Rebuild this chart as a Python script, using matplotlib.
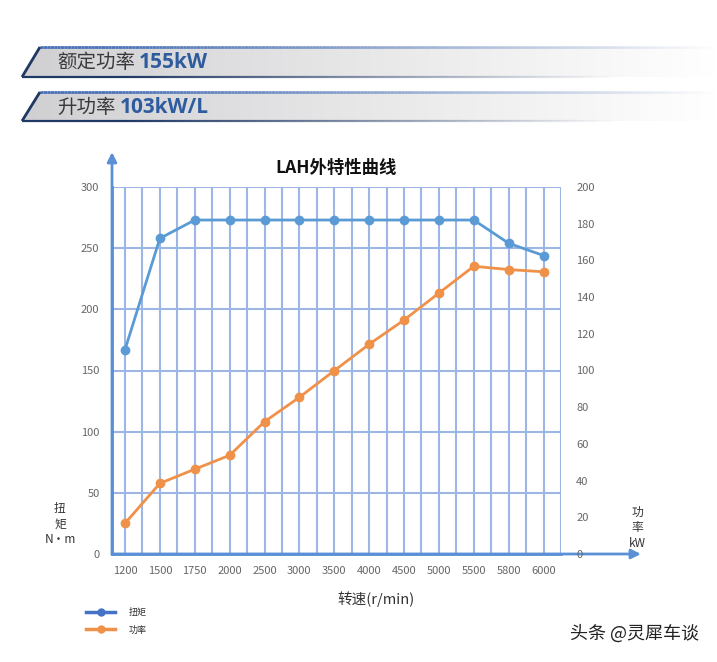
import numpy as np
import matplotlib
matplotlib.use('Agg')
import matplotlib.pyplot as plt
from matplotlib.patches import Polygon
from matplotlib.collections import LineCollection
from matplotlib.colors import LinearSegmentedColormap, to_rgba
from matplotlib.lines import Line2D

plt.rcParams['font.family'] = ['Noto Sans CJK SC', 'DejaVu Sans']

# data
rpm = ['1200', '1500', '1750', '2000', '2500', '3000', '3500',
       '4000', '4500', '5000', '5500', '5800', '6000']
torque = [167, 258, 273, 273, 273, 273, 273, 273, 273, 273, 273, 254, 244]   # N·m
power = [16.7, 38.5, 46.2, 53.8, 72.1, 85.4, 99.9, 114.3, 127.5, 142.2, 156.8, 155.0, 153.8]  # kW
torque_ticks = [0, 50, 100, 150, 200, 250, 300]
power_ticks = [0, 20, 40, 60, 80, 100, 120, 140, 160, 180, 200]

blue = '#5b9bd5'
orange = '#f0914a'
grid_c = '#9db6e6'
axis_c = '#5b8fd6'
tick_c = '#666666'

W, H = 717, 662
fig = plt.figure(figsize=(W / 100, H / 100), dpi=100)

# ---- header banners (pixel coordinates) ----
bg = fig.add_axes([0, 0, 1, 1])
bg.set_xlim(0, W)
bg.set_ylim(H, 0)
bg.axis('off')

cmap = LinearSegmentedColormap.from_list('g', ['#d0d0d3', '#e8e8e9', '#ffffff'])


def banner(y0, y1, label, value, vx):
    poly = Polygon([(22, y1), (40, y0), (W, y0), (W, y1)], closed=True,
                   facecolor='none', edgecolor='none')
    bg.add_patch(poly)
    grad = np.linspace(0, 1, 256).reshape(1, -1)
    im = bg.imshow(grad, cmap=cmap, aspect='auto', extent=(22, W, y1, y0))
    im.set_clip_path(poly)
    xs = np.linspace(40, W, 200)
    segs = [[(xs[i], y0), (xs[i + 1], y0)] for i in range(len(xs) - 1)]
    alphas = np.clip(1.1 - np.linspace(0, 1, len(segs)) * 1.1, 0, 1)
    cols = [to_rgba('#4a72b8', a) for a in alphas]
    bg.add_collection(LineCollection(segs, colors=cols, linewidths=2))
    xs = np.linspace(22, W, 200)
    segs = [[(xs[i], y1), (xs[i + 1], y1)] for i in range(len(xs) - 1)]
    alphas = np.clip(1.2 - np.linspace(0, 1, len(segs)) * 1.4, 0, 1)
    cols = [to_rgba('#1f3864', a) for a in alphas]
    bg.add_collection(LineCollection(segs, colors=cols, linewidths=1.6))
    bg.plot([22, 40], [y1, y0], color='#1f3864', lw=2, solid_capstyle='butt')
    mid = (y0 + y1) / 2
    bg.text(57, mid + 1, label, fontsize=14, color='#3a3a3a', va='center', ha='left')
    bg.text(vx, mid + 1, value, fontsize=15, color='#2e5c9e', va='center',
            ha='left', fontweight='bold', family=['Open Sans', 'DejaVu Sans'])


banner(47, 77, '额定功率', '155kW', 139)
banner(92, 121, '升功率', '103kW/L', 120)

# ---- main chart ----
x = np.arange(len(rpm))
ax = fig.add_axes([112 / W, (H - 554) / H, 449 / W, 367 / H])
ax.set_xlim(-0.372, len(rpm) - 0.5)
ax.set_ylim(0, 300)
ax.set_yticks(torque_ticks)
ax.set_xticks(x)
ax.set_xticklabels(rpm)
ax.set_xticks(np.arange(0.5, len(rpm), 1), minor=True)
ax.grid(which='both', axis='x', color=grid_c, lw=1.5)
ax.grid(which='major', axis='y', color=grid_c, lw=1.5)
ax.set_axisbelow(True)
for s in ['top', 'right']:
    ax.spines[s].set_visible(False)
for s in ['left', 'bottom']:
    ax.spines[s].set_color(axis_c)
    ax.spines[s].set_linewidth(2)
ax.tick_params(axis='both', which='both', length=0, labelsize=8, labelcolor=tick_c)
ax.tick_params(axis='y', pad=9)
ax.tick_params(axis='x', pad=9)

ax.plot(x, torque, color=blue, lw=2, marker='o', ms=6, zorder=3)

ax2 = ax.twinx()
ax2.set_ylim(0, 200)
ax2.set_yticks(power_ticks)
for s in ax2.spines.values():
    s.set_visible(False)
ax2.tick_params(axis='y', length=0, labelsize=8, labelcolor=tick_c, pad=11)
ax2.plot(x, power, color=orange, lw=2, marker='o', ms=6, zorder=3)

# axis arrows
ax.annotate('', xy=(0, 1.095), xytext=(0, 0), xycoords='axes fraction',
            arrowprops=dict(arrowstyle='-|>', color=axis_c, lw=2, mutation_scale=14,
                            shrinkA=0, shrinkB=0), annotation_clip=False)
ax.annotate('', xy=(1.178, 0), xytext=(0, 0), xycoords='axes fraction',
            arrowprops=dict(arrowstyle='-|>', color=axis_c, lw=2, mutation_scale=14,
                            shrinkA=0, shrinkB=0), annotation_clip=False)

ax.text(0.5, 1 + 19 / 367, 'LAH外特性曲线', transform=ax.transAxes, ha='center',
        va='center', fontsize=12.5, fontweight='bold', color='#111111')
ax.text(0.588, -45 / 367, '转速(r/min)', transform=ax.transAxes, ha='center',
        va='center', fontsize=10.5, color='#333333')
fig.text(60 / W, 1 - 524 / H, '扭\n矩\nN·m', ha='center', va='center', fontsize=8.5,
         color='#333333', linespacing=1.25)
fig.text(637 / W, 1 - 528 / H, '功\n率\nkW', ha='center', va='center', fontsize=8.5,
         color='#333333', linespacing=1.25)

handles = [Line2D([], [], color='#4472c4', lw=2.5, marker='o', ms=5),
           Line2D([], [], color=orange, lw=2.5, marker='o', ms=5)]
fig.legend(handles, ['扭矩', '功率'], loc='upper left', bbox_to_anchor=(78 / W, 1 - 600 / H),
           frameon=False, fontsize=6.5, handlelength=3.2, labelspacing=0.9,
           handletextpad=1.5, labelcolor='#333333')

fig.text(635 / W, 1 - 634 / H, '头条 @灵犀车谈', ha='center', va='center',
         fontsize=13, color='#222222')

fig.savefig('out.png', dpi=100)
